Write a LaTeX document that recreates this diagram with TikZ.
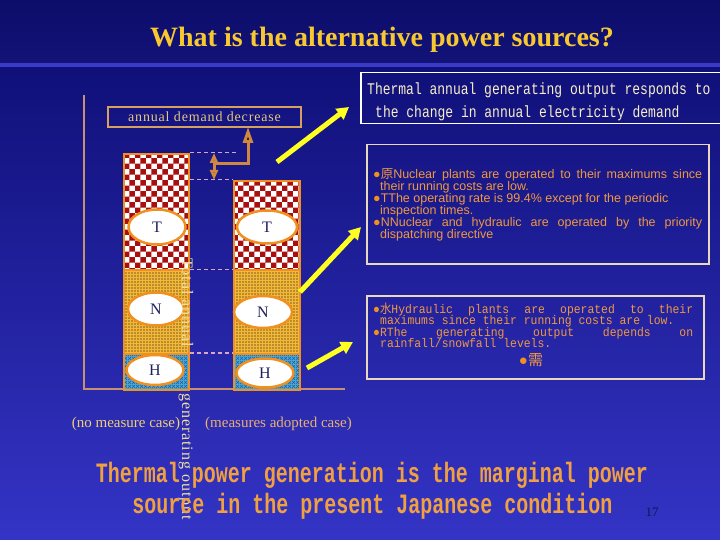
\documentclass[tikz,border=0pt]{standalone}
\usepackage{fontspec}
\usepackage{graphicx}
\setmainfont{Liberation Serif}
\newfontfamily\monof{Liberation Mono}
\newfontfamily\sansf{Liberation Sans}
\newfontfamily\cjkf{Noto Sans CJK JP}
\usetikzlibrary{patterns,shapes.geometric,arrows.meta}
\pgfdeclarepatternformonly{nucdots}{\pgfqpoint{-1.5pt}{-1.5pt}}{\pgfqpoint{1.5pt}{1.5pt}}{\pgfqpoint{3pt}{3pt}}{%
  \pgfpathcircle{\pgfqpoint{0pt}{0pt}}{0.85pt}%
  \pgfusepath{fill}}
\pgfdeclarepatternformonly{hydweave}{\pgfqpoint{0pt}{0pt}}{\pgfqpoint{4pt}{4pt}}{\pgfqpoint{4pt}{4pt}}{%
  \pgfsetlinewidth{0.7pt}%
  \pgfpathmoveto{\pgfqpoint{0pt}{0pt}}\pgfpathlineto{\pgfqpoint{4pt}{4pt}}%
  \pgfpathmoveto{\pgfqpoint{0pt}{4pt}}\pgfpathlineto{\pgfqpoint{4pt}{0pt}}%
  \pgfusepath{stroke}}
\definecolor{titleband}{HTML}{0C0C6A}
\definecolor{stripe}{HTML}{3A3AC8}
\definecolor{bgtop}{HTML}{10107A}
\definecolor{bgbot}{HTML}{3434C6}
\definecolor{gold}{HTML}{F8C830}
\definecolor{axiscol}{HTML}{C89070}
\definecolor{boxtan}{HTML}{D8A060}
\definecolor{ddtext}{HTML}{E8C878}
\definecolor{barorange}{HTML}{F09020}
\definecolor{checkred}{HTML}{A81010}
\definecolor{nucfill}{HTML}{F4B838}
\definecolor{nucdot}{HTML}{806020}
\definecolor{hydfill}{HTML}{48B0D0}
\definecolor{hydpat}{HTML}{2858B0}
\definecolor{dashpink}{HTML}{D8A8C0}
\definecolor{arrowtan}{HTML}{D08840}
\definecolor{yel}{HTML}{FFFF20}
\definecolor{cream}{HTML}{F8F0C8}
\definecolor{orangetext}{HTML}{F09840}
\definecolor{boxborder}{HTML}{E8D8C0}
\definecolor{bigorange}{HTML}{F0A040}
\definecolor{vtext}{HTML}{F0E0A0}
\definecolor{caseyel}{HTML}{F0D070}
\definecolor{caseorg}{HTML}{E8B070}
\definecolor{letterT}{HTML}{202060}
\definecolor{pagecol}{HTML}{141448}
\begin{document}
\begin{tikzpicture}[x=1pt,y=-1pt,
  section/.style={draw=barorange, line width=2pt, inner sep=0, anchor=north west, minimum width=#1},
  thermalsec/.style={section=#1, preaction={fill=white}, pattern=checkerboard, pattern color=checkred},
  nuclearsec/.style={section=#1, preaction={fill=nucfill}, pattern=nucdots, pattern color=nucdot},
  hydrosec/.style={section=#1, preaction={fill=hydfill}, pattern=hydweave, pattern color=hydpat},
  blob/.style={ellipse, fill=white, draw=barorange, line width=2.5pt, inner sep=0,
    text=letterT, font=\fontsize{16}{16}\selectfont},
  dashline/.style={draw=dashpink, line width=1pt, dash pattern=on 4pt off 3pt},
  tanarrow/.style={draw=arrowtan, line width=3pt},
  yelarrow/.style={draw=yel, line width=5pt, -{Triangle[length=12pt, width=13pt]}},
  textbox/.style={line width=1.5pt, inner sep=0, anchor=north west}
]
\useasboundingbox (0,0) rectangle (720,540);
% background
\shade[top color=bgtop, bottom color=bgbot] (0,67) rectangle (720,540);
\shade[top color=titleband, bottom color=titleband!85!stripe] (0,0) rectangle (720,63);
\fill[stripe] (0,63) rectangle (720,67);

% title
\node[font=\fontsize{28}{30}\selectfont\bfseries, text=gold, anchor=base, inner sep=0] (title) at (382,47) {What is the alternative power sources?};

% axes
\draw[axiscol, line width=2pt] (84,95) -- (84,389) -- (345,389);

% annual demand decrease box
\node[draw=boxtan, line width=1.2pt, minimum width=193, minimum height=20, inner sep=0,
  font=\fontsize{14}{14}\selectfont\addfontfeatures{LetterSpace=6}, text=ddtext] (dd) at (204.5,117) {annual demand decrease};

% left bar
\node[thermalsec=65, minimum height=116] (lt) at (123,153) {};
\node[nuclearsec=65, minimum height=84] (ln) at (123,269) {};
\node[hydrosec=65, minimum height=36] (lh) at (123,353) {};
% right bar
\node[thermalsec=66, minimum height=89] (rt) at (233,180) {};
\node[nuclearsec=66, minimum height=84] (rn) at (233,269) {};
\node[hydrosec=66, minimum height=36] (rh) at (233,353) {};

% ellipses
\node[blob, minimum width=57, minimum height=35] (tl) at (157,227) {T};
\node[blob, minimum width=60, minimum height=33] (tr) at (267,227) {T};
\node[blob, minimum width=56, minimum height=33] (nl) at (156,309) {N};
\node[blob, minimum width=58, minimum height=32] (nr) at (263,312) {N};
\node[blob, minimum width=57, minimum height=30] (hl) at (155,370) {H};
\node[blob, minimum width=57, minimum height=29] (hr) at (265,373) {H};

% dashed guide lines
\coordinate (dtop) at (237,153);
\draw[dashline] (lt.north east) -- (dtop);
\draw[dashline] (lt.east |- rt.north) -- (rt.north west);
\draw[dashline] (ln.north east) -- (rn.north west);
\draw[dashline, line width=1.8pt] (lh.north east) -- (rh.north west);

% double arrow and elbow
\coordinate (da1) at (214,153);
\coordinate (da2) at (214,180);
\coordinate (elb) at (214,164);
\coordinate (ddin) at (248,127);
\draw[tanarrow, {Triangle[length=10pt, width=8pt, fill=black]}-{Triangle[length=10pt, width=8pt, fill=black]}] (da1) -- (da2);
\draw[tanarrow, -{Triangle[length=16pt, width=10pt, fill=black]}] (elb) -| (ddin);

% rotated label
\node[font=\fontsize{16}{16}\selectfont\addfontfeatures{LetterSpace=6}, text=vtext, rotate=-90, anchor=west, inner sep=0] (vt) at (186,258) {Total annual\hspace{46pt}generating output};

% case labels
\node[font=\fontsize{15}{15}\selectfont, text=caseyel, anchor=base, inner sep=0] (c1) at (126,427) {(no measure case)};
\node[font=\fontsize{15}{15}\selectfont, text=caseorg, anchor=base, inner sep=0] (c2) at (278.5,427) {(measures adopted case)};

% thermal text box
\node[textbox, draw=white, minimum width=366, minimum height=51] (thb) at (360,72) {};
\node[font=\monof\fontsize{13}{13}\selectfont, text=cream, anchor=base west, inner sep=0] (th1) at (367,95) {\scalebox{1}[1.25]{Thermal annual generating output responds to}};
\node[font=\monof\fontsize{13}{13}\selectfont, text=cream, anchor=base west, inner sep=0] (th2) at (375,118) {\scalebox{1}[1.25]{the change in annual electricity demand}};

% nuclear text box
\node[textbox, draw=boxborder, minimum width=342, minimum height=119] (nb) at (366,144) {};
\node[font=\sansf\fontsize{12.5}{11.8}\selectfont, text=orangetext, anchor=base west, inner sep=0] (nt) at (373,179)
{\parbox[t]{330pt}{\lineskiplimit=-5pt%
\hbox to 329pt{{\color{barorange}●}{\cjkf 原}Nuclear \hfil plants \hfil are \hfil operated \hfil to \hfil their \hfil maximums \hfil since}%
\hbox{\hspace*{7pt}their running costs are low.}%
\hbox{{\color{barorange}●}TThe operating rate is 99.4\% except for the periodic}%
\hbox{\hspace*{7pt}inspection times.}%
\hbox to 329pt{{\color{barorange}●}NNuclear \hfil and \hfil hydraulic \hfil are \hfil operated \hfil by \hfil the \hfil priority}%
\hbox{\hspace*{7pt}dispatching directive}}};

% hydraulic text box
\node[textbox, draw=boxborder, minimum width=337, minimum height=83] (hb) at (366,295) {};
\node[font=\monof\fontsize{11.4}{10.6}\selectfont, text=orangetext, anchor=base west, inner sep=0] (ht) at (373,313)
{\scalebox{1}[1.1]{\parbox[t]{330pt}{\lineskiplimit=-5pt%
\hbox to 320pt{{\sansf\color{barorange}●}{\cjkf 水}Hydraulic\hfil plants\hfil are\hfil operated\hfil to\hfil their}%
\hbox{\hspace*{7pt}maximums since their running costs are low.}%
\hbox to 320pt{{\sansf\color{barorange}●}RThe\hfil generating\hfil output\hfil depends\hfil on}%
\hbox{\hspace*{7pt}rainfall/snowfall levels.}}}};
\node[font=\fontsize{15}{15}\selectfont, text=orangetext, anchor=base, inner sep=0] (hj) at (531,365) {{\sansf\color{barorange}●}{\cjkf 需}};

% yellow arrows
\coordinate (a1s) at (277,162); \coordinate (a1e) at (349,107);
\coordinate (a2s) at (300,292); \coordinate (a2e) at (361,227);
\coordinate (a3s) at (307,368); \coordinate (a3e) at (353,342);
\draw[yelarrow] (a1s) -- (a1e);
\draw[yelarrow] (a2s) -- (a2e);
\draw[yelarrow] (a3s) -- (a3e);

% bottom statement
\node[font=\monof\bfseries\fontsize{20}{20}\selectfont, text=bigorange, anchor=base, inner sep=0] (b1) at (372,482) {\scalebox{1}[1.4]{Thermal power generation is the marginal power}};
\node[font=\monof\bfseries\fontsize{20}{20}\selectfont, text=bigorange, anchor=base, inner sep=0] (b2) at (372.5,513) {\scalebox{1}[1.4]{source in the present Japanese condition}};

% page number
\node[font=\fontsize{13}{13}\selectfont, text=pagecol, anchor=base, inner sep=0] (pg) at (652,516) {17};
\end{tikzpicture}
\end{document}
